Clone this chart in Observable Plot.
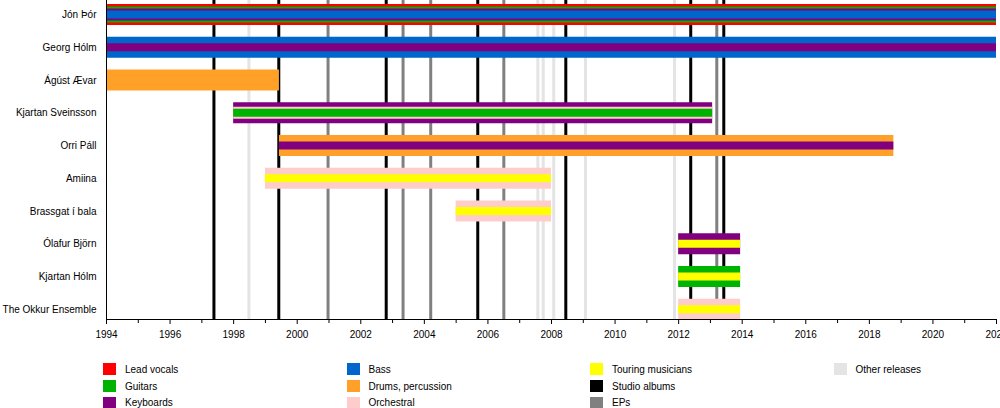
<!DOCTYPE html>
<html><head><meta charset="utf-8">
<script src="https://cdn.jsdelivr.net/npm/d3@7"></script>
<script src="https://cdn.jsdelivr.net/npm/@observablehq/plot@0.6"></script>
<style>
body{margin:0;background:#fff;font-family:"Liberation Sans",Arial,sans-serif;color:#000;}
#legend{display:grid;grid-template-columns:repeat(4,243.5px);grid-template-rows:repeat(3,16.7px);grid-auto-flow:column;padding-left:103px;margin-top:11px;font-size:10px;}
.item{display:flex;align-items:center;}
.sw{width:13px;height:12px;margin-right:9px;flex:none;}
</style></head>
<body>
<div id="chart"></div>
<div id="legend"></div>
<script>
const members = ["Jón Þór","Georg Hólm","Ágúst Ævar","Kjartan Sveinsson","Orri Páll","Amiina","Brassgat í bala","Ólafur Björn","Kjartan Hólm","The Okkur Ensemble"];
const tenureStart = [1994, 1994, 1994, 1998, 1999.44, 1999, 2005, 2012, 2012, 2012];
const tenureEnd = [2022, 2022, 1999.44, 2013.07, 2018.77, 2008, 2008, 2013.95, 2013.95, 2013.95];
const roleLayer1 = ["Lead vocals","Bass","Drums, percussion","Keyboards","Drums, percussion","Orchestral","Orchestral","Keyboards","Guitars","Orchestral"];
const roleLayer2 = ["Guitars","Keyboards",null,"Orchestral","Keyboards","Touring musicians","Touring musicians","Touring musicians","Touring musicians","Touring musicians"];
const roleLayer3 = ["Keyboards",null,null,"Guitars",null,null,null,null,null,null];
const roleLayer4 = ["Bass",null,null,null,null,null,null,null,null,null];

const studioAlbums = [1997.38, 1999.42, 2002.8, 2005.68, 2008.45, 2012.38, 2013.42];
const eps = [2000.97, 2003.33, 2004.2, 2006.5, 2013.2];
const otherReleases = [1998.48, 2007.57, 2007.74, 2008.07, 2009.07, 2011.87];

const roleNames = ["Lead vocals","Guitars","Keyboards","Bass","Drums, percussion","Orchestral","Touring musicians","Studio albums","EPs","Other releases"];
const roleColors = ["#ff0000","#00b300","#800080","#0066cc","#ffa028","#ffcccc","#ffff00","#000000","#808080","#e4e4e4"];

const majorYears = [1994,1996,1998,2000,2002,2004,2006,2008,2010,2012,2014,2016,2018,2020,2022];
const minorYears = [1995,1997,1999,2001,2003,2005,2007,2009,2011,2013,2015,2017,2019,2021];

// build stripes
const stripes = [];
members.forEach((m, i) => {
  const layers = [roleLayer1[i], roleLayer2[i], roleLayer3[i], roleLayer4[i]].filter(Boolean);
  const n = layers.length;
  layers.forEach((role, k) => {
    const inset = k === 0 ? 0 : 6.5 - 2 * (n - 1 - k);
    stripes.push({member: m, start: tenureStart[i], end: tenureEnd[i], role, inset});
  });
});
const base = (32.75 - 21) / 2;

const stripeMarks = stripes.map(s => Plot.barX([s], {
  x1: "start", x2: "end", y: "member", fill: "role",
  insetTop: base + s.inset, insetBottom: base + s.inset
}));

const chart = Plot.plot({
  width: 1000, height: 350,
  marginTop: 0, marginLeft: 106, marginRight: 4, marginBottom: 31,
  style: {fontFamily: "'Liberation Sans', Arial, sans-serif", fontSize: "10px", color: "#000", background: "#fff", overflow: "visible"},
  x: {domain: [1994, 2022]},
  y: {type: "band", domain: members, range: [-1.875, 325.625], padding: 0, round: false},
  color: {domain: roleNames, range: roleColors},
  marks: [
    Plot.ruleX(otherReleases, {x: d => d, stroke: () => "Other releases", strokeWidth: 3}),
    Plot.ruleX(eps, {x: d => d, stroke: () => "EPs", strokeWidth: 3}),
    Plot.ruleX(studioAlbums, {x: d => d, stroke: () => "Studio albums", strokeWidth: 3}),
    ...stripeMarks,
    Plot.ruleX([1994], {stroke: "#000"}),
    Plot.frame({anchor: "bottom", stroke: "#000"}),
    Plot.axisX({ticks: majorYears, tickFormat: d => String(d), tickSize: 5, tickPadding: 6, label: null}),
    Plot.axisX({ticks: minorYears, tickFormat: () => "", tickSize: 4, label: null}),
    Plot.axisY({tickSize: 0, tickPadding: 10, label: null})
  ]
});
document.getElementById("chart").append(chart);

const legend = document.getElementById("legend");
roleNames.forEach((name, i) => {
  const item = document.createElement("div");
  item.className = "item";
  const sw = document.createElement("span");
  sw.className = "sw";
  sw.style.background = roleColors[i];
  const label = document.createElement("span");
  label.textContent = name;
  item.append(sw, label);
  legend.append(item);
});
</script>
</body></html>
